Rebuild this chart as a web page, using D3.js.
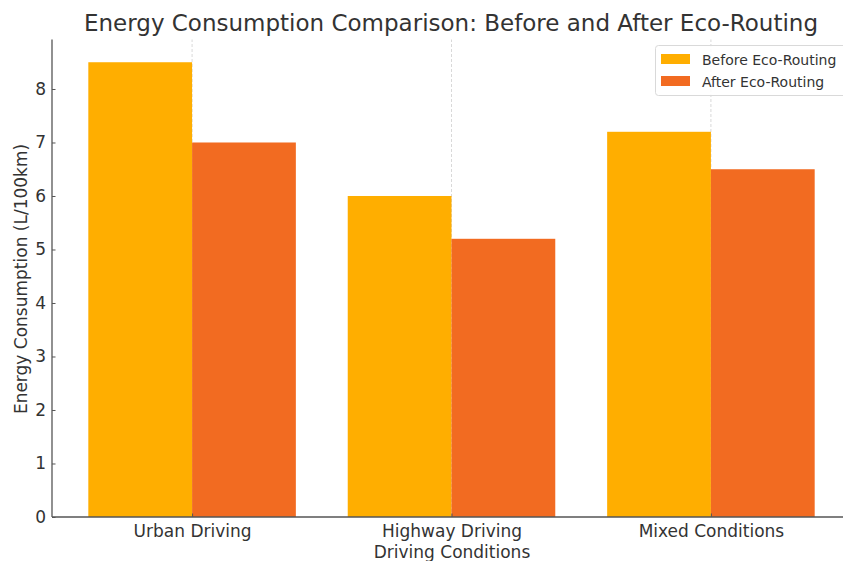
<!DOCTYPE html>
<html>
<head>
<meta charset="utf-8">
<script src="https://cdn.jsdelivr.net/npm/d3@7"></script>
<style>
  body { margin: 0; background: #fff; }
  svg { font-family: "DejaVu Sans", sans-serif; }
</style>
</head>
<body>
<div id="chart"></div>
<script>
const width = 843;
const height = 561;

// chart data
const categories = ['Urban Driving', 'Highway Driving', 'Mixed Conditions'];
const seriesNames = ['Before Eco-Routing', 'After Eco-Routing'];
const beforeValues = [8.5, 6.0, 7.2];
const afterValues = [7.0, 5.2, 6.5];
const yTicks = [0, 1, 2, 3, 4, 5, 6, 7, 8];
const colors = ['#ffae00', '#f26b21'];

const series = [beforeValues, afterValues];
const barWidth = 0.4;

const svg = d3.select('#chart').append('svg')
  .attr('width', width)
  .attr('height', height);

// matplotlib-like data limits (5% margins)
const x = d3.scaleLinear().domain([-0.54, 2.54]).range([52, 851]);
const y = d3.scaleLinear().domain([0, 8.925]).range([517, 39.5]);

// vertical grid lines at category positions
svg.append('g')
  .selectAll('line')
  .data(categories)
  .enter()
  .append('line')
  .attr('x1', (d, i) => x(i))
  .attr('x2', (d, i) => x(i))
  .attr('y1', y(0))
  .attr('y2', y.range()[1])
  .attr('stroke', '#cfcfcf')
  .attr('stroke-width', 0.8)
  .attr('stroke-dasharray', '3,2');

// bars
series.forEach((values, s) => {
  svg.append('g')
    .selectAll('rect')
    .data(values)
    .enter()
    .append('rect')
    .attr('x', (d, i) => x(i - barWidth + s * barWidth))
    .attr('width', x(barWidth) - x(0))
    .attr('y', (d) => y(d))
    .attr('height', (d) => y(0) - y(d))
    .attr('fill', colors[s]);
});

// axes
const axisColor = '#555';

const yAxis = svg.append('g')
  .attr('transform', `translate(${x.range()[0]},0)`)
  .call(d3.axisLeft(y).tickValues(yTicks).tickSize(-3.5).tickPadding(6).tickFormat(d3.format('d')));

const xAxis = svg.append('g')
  .attr('transform', `translate(0,${y(0)})`)
  .call(d3.axisBottom(x).tickValues([0, 1, 2]).tickSize(-3.5).tickPadding(8).tickFormat((d) => categories[d]));

[yAxis, xAxis].forEach((g) => {
  g.select('.domain').attr('stroke', axisColor).attr('stroke-width', 1.3);
  g.selectAll('.tick line').attr('stroke', axisColor).attr('stroke-width', 1);
  g.selectAll('.tick text')
    .attr('fill', '#333')
    .attr('font-size', 17)
    .attr('font-family', '"DejaVu Sans", sans-serif');
});
// keep axis lines without the end caps
xAxis.select('.domain').attr('d', `M${x.range()[0]},0H${width}`);
yAxis.select('.domain').attr('d', `M0,${y(0)}V${y.range()[1]}`);

// title and axis labels
svg.append('text')
  .attr('x', 451)
  .attr('y', 31)
  .attr('text-anchor', 'middle')
  .attr('font-size', 23)
  .attr('fill', '#333')
  .text('Energy Consumption Comparison: Before and After Eco-Routing');

svg.append('text')
  .attr('x', 452)
  .attr('y', 558)
  .attr('text-anchor', 'middle')
  .attr('font-size', 17)
  .attr('fill', '#333')
  .text('Driving Conditions');

svg.append('text')
  .attr('transform', 'translate(27,279) rotate(-90)')
  .attr('text-anchor', 'middle')
  .attr('font-size', 17)
  .attr('fill', '#333')
  .text('Energy Consumption (L/100km)');

// legend
const legend = svg.append('g').attr('transform', 'translate(655.5,45.5)');
legend.append('rect')
  .attr('width', 200)
  .attr('height', 50)
  .attr('rx', 3)
  .attr('fill', '#fff')
  .attr('fill-opacity', 0.85)
  .attr('stroke', '#d9d9d9');

seriesNames.forEach((name, i) => {
  const row = legend.append('g').attr('transform', `translate(5.5,${8.5 + i * 22})`);
  row.append('rect')
    .attr('width', 29)
    .attr('height', 10)
    .attr('fill', colors[i]);
  row.append('text')
    .attr('x', 41)
    .attr('y', 10.5)
    .attr('font-size', 14)
    .attr('fill', '#333')
    .text(name);
});
</script>
</body>
</html>
